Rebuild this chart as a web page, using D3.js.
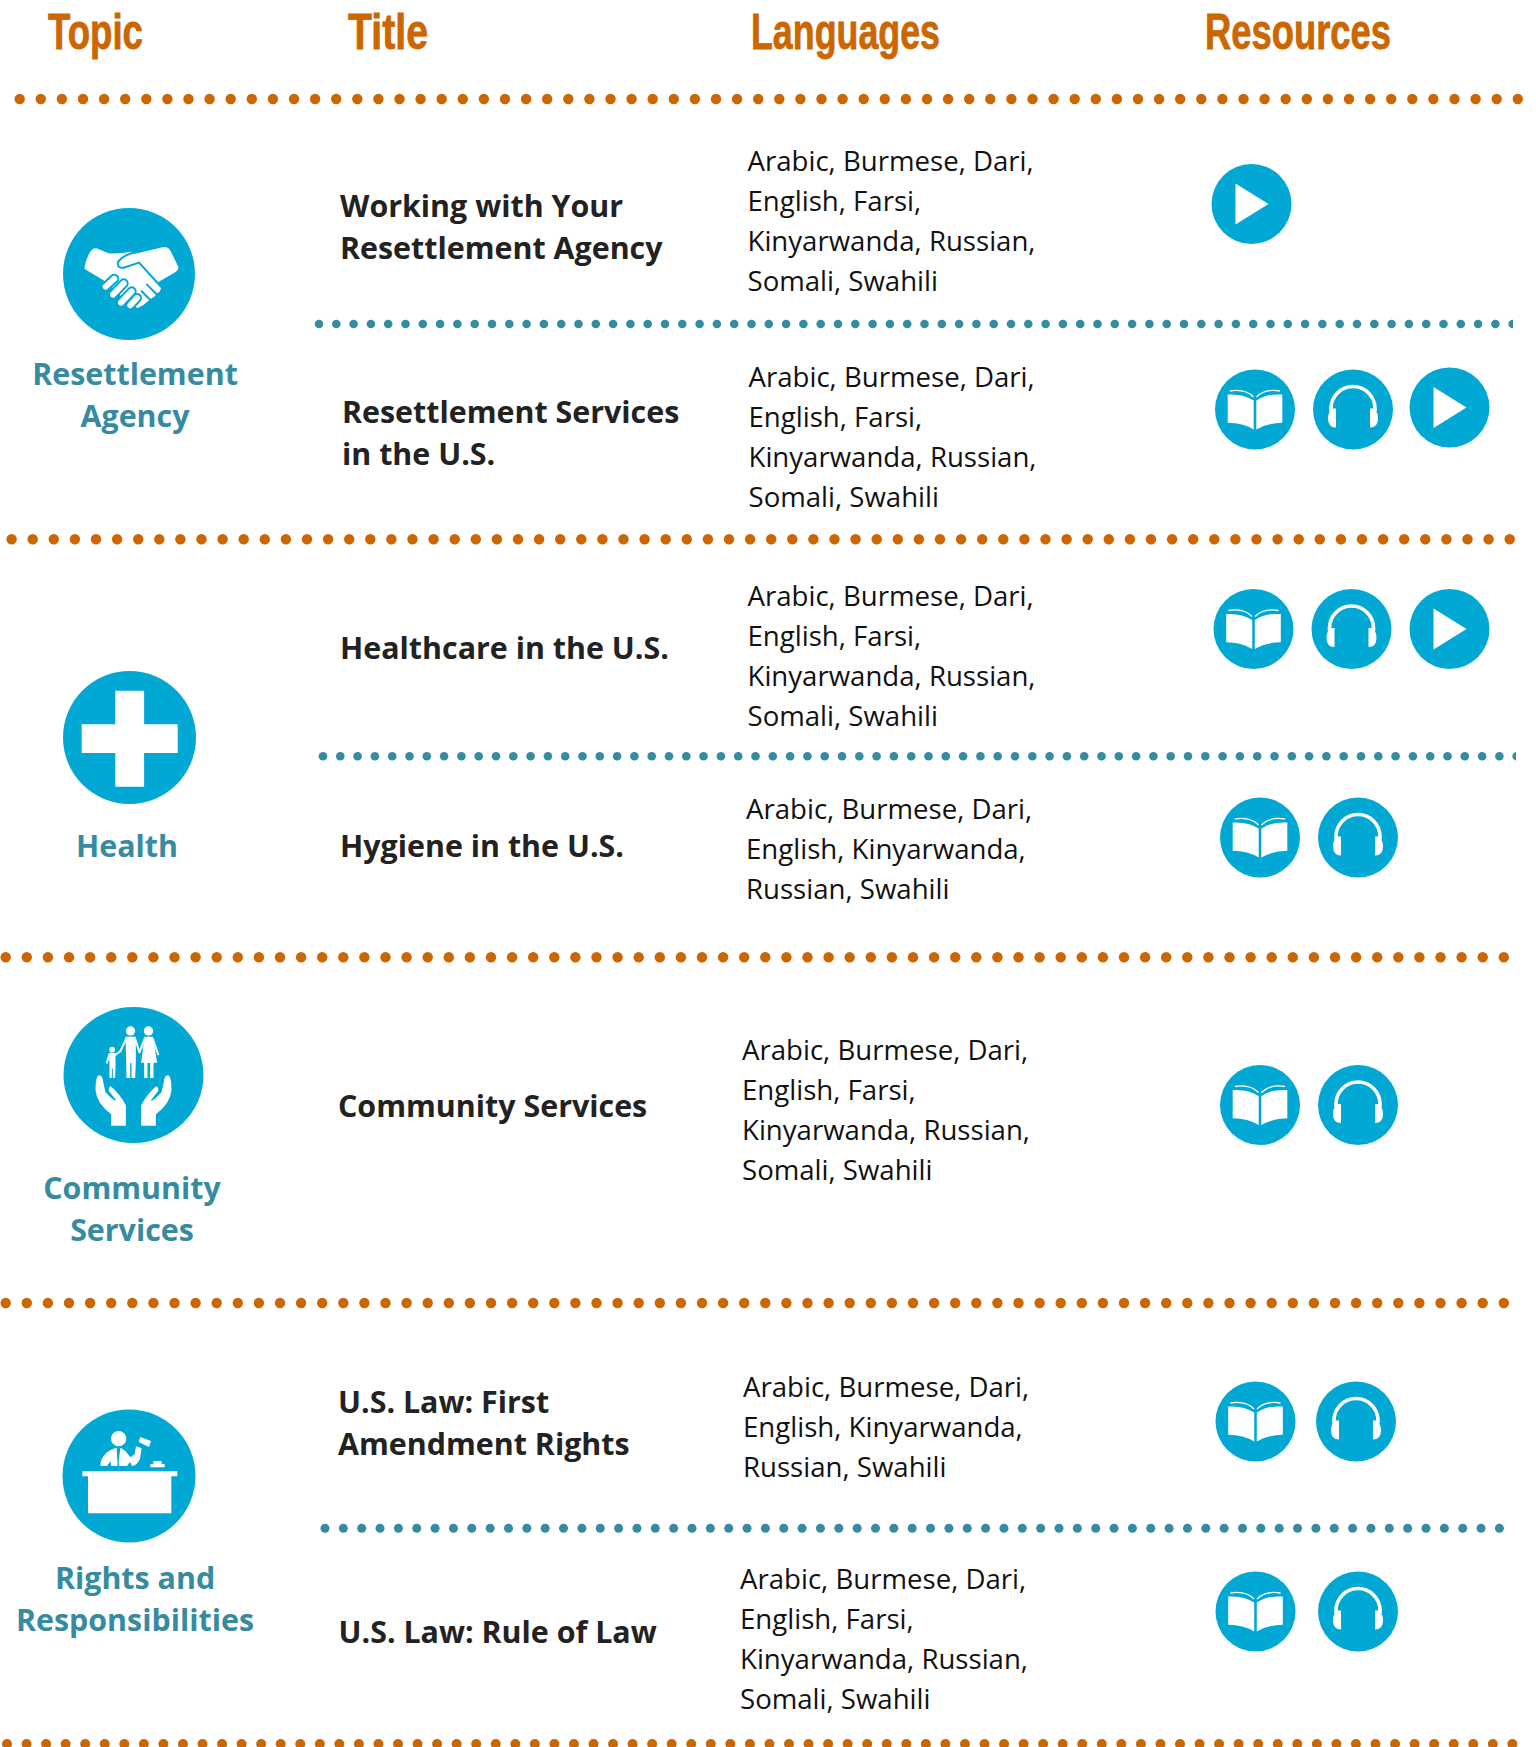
<!DOCTYPE html>
<html>
<head>
<meta charset="utf-8">
<script src="https://cdn.jsdelivr.net/npm/d3@7"></script>
<style>
  html, body { margin: 0; padding: 0; background: #fff; }
  svg { display: block; }
</style>
</head>
<body>
<div id="chart"></div>
<script>
// table content
var headers = ["Topic", "Title", "Languages", "Resources"];

var topics = [
    ["Resettlement", "Agency"],
    ["Health"],
    ["Community", "Services"],
    ["Rights and", "Responsibilities"]
];
var topicIcons = ["handshake", "cross", "family", "judge"];

var titles = [
    ["Working with Your", "Resettlement Agency"],
    ["Resettlement Services", "in the U.S."],
    ["Healthcare in the U.S."],
    ["Hygiene in the U.S."],
    ["Community Services"],
    ["U.S. Law: First", "Amendment Rights"],
    ["U.S. Law: Rule of Law"]
];

var languages = [
    ["Arabic, Burmese, Dari,", "English, Farsi,", "Kinyarwanda, Russian,", "Somali, Swahili"],
    ["Arabic, Burmese, Dari,", "English, Farsi,", "Kinyarwanda, Russian,", "Somali, Swahili"],
    ["Arabic, Burmese, Dari,", "English, Farsi,", "Kinyarwanda, Russian,", "Somali, Swahili"],
    ["Arabic, Burmese, Dari,", "English, Kinyarwanda,", "Russian, Swahili"],
    ["Arabic, Burmese, Dari,", "English, Farsi,", "Kinyarwanda, Russian,", "Somali, Swahili"],
    ["Arabic, Burmese, Dari,", "English, Kinyarwanda,", "Russian, Swahili"],
    ["Arabic, Burmese, Dari,", "English, Farsi,", "Kinyarwanda, Russian,", "Somali, Swahili"]
];

var resources = [
    ["play"],
    ["book", "audio", "play"],
    ["book", "audio", "play"],
    ["book", "audio"],
    ["book", "audio"],
    ["book", "audio"],
    ["book", "audio"]
];

// layout, kept apart from the content above
var width = 1536, height = 1747;
var ORANGE = "#cc6600", TEAL = "#368ba1", BLUE = "#02a8d4";

var headerPos = [
    {x: 48, w: 95}, {x: 348, w: 80}, {x: 751, w: 189}, {x: 1205, w: 186}
];

var topicPos = [
    {cx: 129, cy: 274, rx: 66, ry: 66, tx: 135, ty: 385},
    {cx: 129.5, cy: 737.5, rx: 66.5, ry: 66.5, tx: 127, ty: 857},
    {cx: 133.5, cy: 1075, rx: 70, ry: 68, tx: 132, ty: 1199},
    {cx: 129, cy: 1476, rx: 66.5, ry: 66.5, tx: 135, ty: 1589}
];

var titlePos = [
    {x: 340, y: 217}, {x: 342, y: 423}, {x: 340, y: 659}, {x: 340, y: 857},
    {x: 338, y: 1117}, {x: 338, y: 1413}, {x: 338.5, y: 1643}
];

var langPos = [
    {x: 747.5, y: 170.7}, {x: 748.5, y: 386.7}, {x: 747.5, y: 605.7}, {x: 746, y: 818.7},
    {x: 742, y: 1059.7}, {x: 743, y: 1396.7}, {x: 740, y: 1588.7}
];

var resourcePos = [
    {y: [204], x: [1251.5]},
    {y: [409.5, 409.5, 407.5], x: [1255, 1353, 1449.5]},
    {y: [629, 629, 629], x: [1253.5, 1351.5, 1449.5]},
    {y: [837.5, 837.5], x: [1260, 1358]},
    {y: [1105, 1105], x: [1260, 1358]},
    {y: [1421.5, 1421.5], x: [1255.5, 1356]},
    {y: [1611.5, 1611.5], x: [1255.5, 1358]}
];

// dotted rules
var rules = [
    {y: 99, x0: 19.7, step: 21.1, n: 72, r: 5.2, color: ORANGE},
    {y: 324, x0: 319, step: 17.3, n: 70, r: 4.3, color: TEAL, clip: 1513},
    {y: 539.3, x0: 11.6, step: 21.1, n: 72, r: 5.2, color: ORANGE},
    {y: 756.3, x0: 323, step: 17.3, n: 70, r: 4.3, color: TEAL, clip: 1516},
    {y: 957.3, x0: 5.7, step: 21.1, n: 72, r: 5.2, color: ORANGE},
    {y: 1303, x0: 5.7, step: 21.1, n: 72, r: 5.2, color: ORANGE},
    {y: 1528.3, x0: 325, step: 18.35, n: 65, r: 4.5, color: TEAL},
    {y: 1744, x0: 7, step: 19.55, n: 78, r: 5, color: ORANGE}
];

var svg = d3.select("#chart")
    .append("svg")
    .attr("width", width)
    .attr("height", height)
    .style("font-family", "'Open Sans', sans-serif");

svg.append("defs").selectAll("clipPath")
    .data(rules.filter(d => d.clip))
    .enter()
    .append("clipPath")
    .attr("id", (d, i) => "rule-clip-" + i)
    .append("rect")
    .attr("x", 0)
    .attr("y", 0)
    .attr("width", d => d.clip)
    .attr("height", height);

// header row
svg.selectAll(".header")
    .data(headers)
    .enter()
    .append("text")
    .attr("class", "header")
    .attr("x", (d, i) => headerPos[i].x)
    .attr("y", 48.5)
    .attr("textLength", (d, i) => headerPos[i].w)
    .attr("lengthAdjust", "spacingAndGlyphs")
    .style("font-family", "'Liberation Sans Narrow', 'Liberation Sans', sans-serif")
    .style("font-weight", 700)
    .style("font-size", "50px")
    .style("fill", ORANGE)
    .style("stroke", ORANGE)
    .style("stroke-width", 0.8)
    .text(d => d);

// dotted rules
var clipIndex = 0;
rules.forEach(function (rule) {
    var x = d3.scaleLinear()
        .domain([0, rule.n - 1])
        .range([rule.x0, rule.x0 + rule.step * (rule.n - 1)]);

    var g = svg.append("g").attr("class", "rule");
    if (rule.clip) g.attr("clip-path", "url(#rule-clip-" + (clipIndex++) + ")");

    g.selectAll("circle")
        .data(d3.range(rule.n))
        .enter()
        .append("circle")
        .attr("cx", d => x(d))
        .attr("cy", rule.y)
        .attr("r", rule.r)
        .style("fill", rule.color);
});

function handshake(g) {
    var p = g.append("g").attr("transform", "scale(0.3333) translate(-162,-132)");
    p.append("path")
        .attr("d", "M28,116 Q32,85 48,62 Q58,50 72,58 L100,70 Q135,72 168,65 L178,72 L262,52 Q278,48 286,62 L310,110 Q312,118 302,126 L250,156 L258,176 Q256,186 246,190 L240,198 L226,208 L216,216 L204,226 L188,234 L160,220 L110,170 L84,150 Z")
        .style("fill", "#fff");
    // left hand fingers: wide blue under narrow white gives the outline
    var fingers = ["M92,170 L118,146", "M114,194 L146,160", "M138,218 L170,184", "M166,226 L186,204"];
    fingers.forEach(function (d) {
        p.append("path").attr("d", d)
            .style("stroke", BLUE).style("stroke-width", 30).style("stroke-linecap", "round");
    });
    fingers.forEach(function (d) {
        p.append("path").attr("d", d)
            .style("stroke", "#fff").style("stroke-width", 18).style("stroke-linecap", "round");
    });
    // thumb and the gaps of the right hand
    p.append("path")
        .attr("d", "M172,69 Q140,78 128,98 Q128,116 146,113 L192,98 L256,168 M200,184 L226,210 M216,164 L244,192")
        .style("fill", "none")
        .style("stroke", BLUE)
        .style("stroke-width", 6)
        .style("stroke-linecap", "round");
}

function cross(g) {
    g.append("path")
        .attr("d", "M-14.4,-48 H14.4 V-14.4 H48 V14.4 H14.4 V48 H-14.4 V14.4 H-48 V-14.4 H-14.4 Z")
        .attr("transform", "translate(0.2,1.2)")
        .style("fill", "#fff");
}

function family(g) {
    var p = g.append("g").attr("transform", "scale(0.3333) translate(-280,-254)");
    var hand = "M176,255 Q166,258 166,300 Q170,340 213,372 L213,406 L257,406 L257,345 Q238,310 212,288 Q204,290 206,302 L228,330 Q222,334 196,306 Q190,280 188,268 Q185,255 176,255 Z";
    p.append("path").attr("d", hand).style("fill", "#fff");
    p.append("path").attr("d", hand).attr("transform", "translate(560,0) scale(-1,1)").style("fill", "#fff");

    [[271, 122, 14], [325, 122, 14], [216, 178, 8.5]].forEach(function (c) {
        p.append("circle").attr("cx", c[0]).attr("cy", c[1]).attr("r", c[2]).style("fill", "#fff");
    });
    p.append("path")
        .attr("d", "M256,139 H287 V215 L285,263 H274 V218 H270 V263 H259 L258,215 Z M313,139 H338 L351,217 H340 V263 H330 V218 H322 V263 H312 V217 H303 Z M207,188 H226 V232 L225,263 H218 V235 H215 V263 H208 V232 Z")
        .style("fill", "#fff");
    p.append("path")
        .attr("d", "M258,146 L240,183 M285,146 L298,186 M313,146 L298,186 M338,146 L354,192 M225,194 L242,182 M208,192 L200,217")
        .style("fill", "none")
        .style("stroke", "#fff")
        .style("stroke-width", 6)
        .style("stroke-linecap", "round");
}

function judge(g) {
    var p = g.append("g").attr("transform", "scale(0.3333) translate(-267,-242)");
    p.append("path")
        .attr("d", "M127,228 H412 V243 H394 V354 H144 V243 H127 Z")
        .style("fill", "#fff");
    p.append("circle").attr("cx", 236).attr("cy", 130).attr("r", 23).style("fill", "#fff");
    p.append("path")
        .attr("d", "M181,212 Q183,170 230,157 L233,212 H214 L211,198 L201,212 Z M241,157 Q255,162 271,186 L284,176 L288,153 L305,159 L300,190 Q290,212 276,212 L270,200 L261,212 H238 L236,198 Z")
        .style("fill", "#fff");
    p.append("path")
        .attr("d", "M296,140 L301,125 L333,137 L327,155 Z")
        .style("fill", "#fff");
    p.append("path")
        .attr("d", "M331,216 V206 H340 V197 H365 V206 H374 V216 Z")
        .style("fill", "#fff");
}

function book(g) {
    var page = "M-27.3,-15 Q-12,-16 -1.3,-9 V20 Q-12,13.5 -27.3,13.3 Z";
    var arc = "M-25,-18.5 Q-10,-21 -1.5,-12.5";
    [1, -1].forEach(function (s) {
        g.append("path").attr("d", page).attr("transform", "scale(" + s + ",1)").style("fill", "#fff");
        g.append("path").attr("d", arc).attr("transform", "scale(" + s + ",1)")
            .style("fill", "none").style("stroke", "#fff").style("stroke-width", 1.3);
    });
}

function audio(g) {
    g.append("path")
        .attr("d", "M-22,2 V-1 A22,22 0 0 1 22,-1 V2")
        .style("fill", "none")
        .style("stroke", "#fff")
        .style("stroke-width", 3.6);
    [1, -1].forEach(function (s) {
        g.append("path")
            .attr("d", "M-17,-1 V18 Q-25,18 -25,9 Q-25,3 -22,1 V-1 Z")
            .attr("transform", "scale(" + s + ",1)")
            .style("fill", "#fff");
    });
}

function play(g) {
    g.append("path")
        .attr("d", "M-16,-20.5 L17,0 L-16,20.5 Z")
        .style("fill", "#fff");
}

var glyphs = {handshake, cross, family, judge, book, audio, play};

function drawIcon(cx, cy, rx, ry, name) {
    var g = svg.append("g")
        .attr("class", "icon " + name)
        .attr("transform", "translate(" + cx + "," + cy + ")");
    g.append("ellipse")
        .attr("rx", rx)
        .attr("ry", ry)
        .style("fill", BLUE);
    glyphs[name](g);
}

function drawLines(lines, x, y, lineHeight, anchor, size, weight, color) {
    svg.append("text")
        .attr("text-anchor", anchor)
        .style("font-size", size + "px")
        .style("font-weight", weight)
        .style("fill", color)
        .selectAll("tspan")
        .data(lines)
        .enter()
        .append("tspan")
        .attr("x", x)
        .attr("y", (d, i) => y + i * lineHeight)
        .text(d => d);
}

topics.forEach(function (lines, i) {
    var p = topicPos[i];
    drawIcon(p.cx, p.cy, p.rx, p.ry, topicIcons[i]);
    drawLines(lines, p.tx, p.ty, 41.5, "middle", 30.4, 700, TEAL);
});

titles.forEach(function (lines, i) {
    drawLines(lines, titlePos[i].x, titlePos[i].y, 42, "start", 30.4, 700, "#222222");
});

languages.forEach(function (lines, i) {
    drawLines(lines, langPos[i].x, langPos[i].y, 40, "start", 27.6, 400, "#111111");
});

resources.forEach(function (list, i) {
    list.forEach(function (name, j) {
        drawIcon(resourcePos[i].x[j], resourcePos[i].y[j], 40, 40, name);
    });
});
</script>
</body>
</html>
